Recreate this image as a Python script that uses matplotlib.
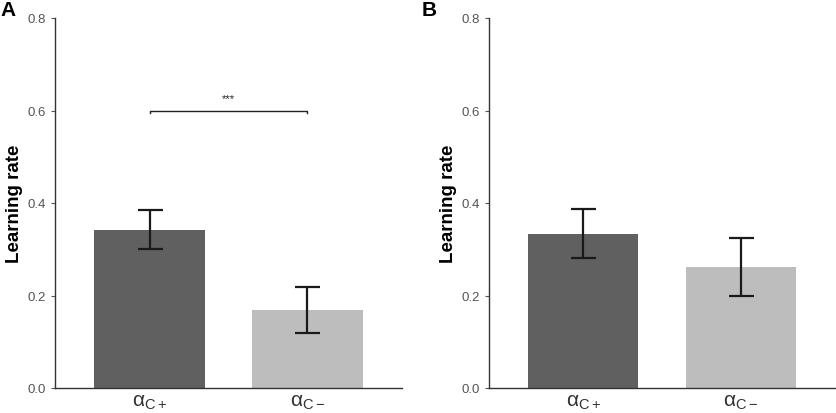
import matplotlib
matplotlib.use("Agg")
import matplotlib.pyplot as plt

plt.rcParams["font.family"] = ["Liberation Sans", "DejaVu Sans"]
plt.rcParams["mathtext.fontset"] = "custom"
plt.rcParams["mathtext.rm"] = "Liberation Sans"
plt.rcParams["mathtext.it"] = "Liberation Sans"

labels = [r"$\mathregular{α_{C+}}$", r"$\mathregular{α_{C−}}$"]
colors = ["#606060", "#bdbdbd"]

# panel A
means_a = [0.342, 0.169]
lo_a = [0.300, 0.120]
hi_a = [0.385, 0.219]

# panel B
means_b = [0.334, 0.262]
lo_b = [0.281, 0.200]
hi_b = [0.388, 0.324]

W, H = 837, 414
fig = plt.figure(figsize=(W / 100, H / 100), dpi=100)

def panel(rect, means, lo, hi, letter, letter_x, sig=None):
    ax = fig.add_axes(rect)
    x = range(len(means))
    err = [[m - l for m, l in zip(means, lo)], [h - m for m, h in zip(means, hi)]]
    ax.bar(x, means, width=0.7, color=colors, zorder=1)
    ax.errorbar(x, means, yerr=err, fmt="none", ecolor="#1a1a1a",
                elinewidth=1.6, capsize=9, capthick=1.6, zorder=2)
    ax.set_xlim(-0.6, 1.6)
    ax.set_ylim(0, 0.8)
    ax.set_yticks([0.0, 0.2, 0.4, 0.6, 0.8])
    ax.set_yticklabels(["0.0", "0.2", "0.4", "0.6", "0.8"])
    ax.set_xticks(list(x))
    ax.set_xticklabels(labels, fontsize=15, color="#333333")
    ax.tick_params(axis="y", labelsize=9.5, colors="#555555", length=3, width=0.8)
    ax.tick_params(axis="x", length=0, pad=3)
    for s in ["top", "right"]:
        ax.spines[s].set_visible(False)
    for s in ["left", "bottom"]:
        ax.spines[s].set_color("#333333")
        ax.spines[s].set_linewidth(1.0)
    ax.set_ylabel("Learning rate", fontsize=13.5, fontweight="bold", labelpad=3)
    if sig is not None:
        y = 0.6
        ax.plot([0, 0, 1, 1], [y - 0.006, y, y, y - 0.006], color="#222222",
                lw=1.0, clip_on=False)
        ax.text(0.5, y + 0.015, sig, ha="center", va="bottom", fontsize=8,
                color="#222222")
    fig.text(letter_x, 0.975, letter, fontsize=15, fontweight="bold",
             ha="left", va="center")
    return ax

bottom = 1 - 389 / H
height = (389 - 19) / H
panel([55 / W, bottom, (402 - 55) / W, height], means_a, lo_a, hi_a, "A", 0.001, sig="***")
panel([489 / W, bottom, (835 - 489) / W, height], means_b, lo_b, hi_b, "B", 422 / W)

fig.savefig("out.png", dpi=100)
